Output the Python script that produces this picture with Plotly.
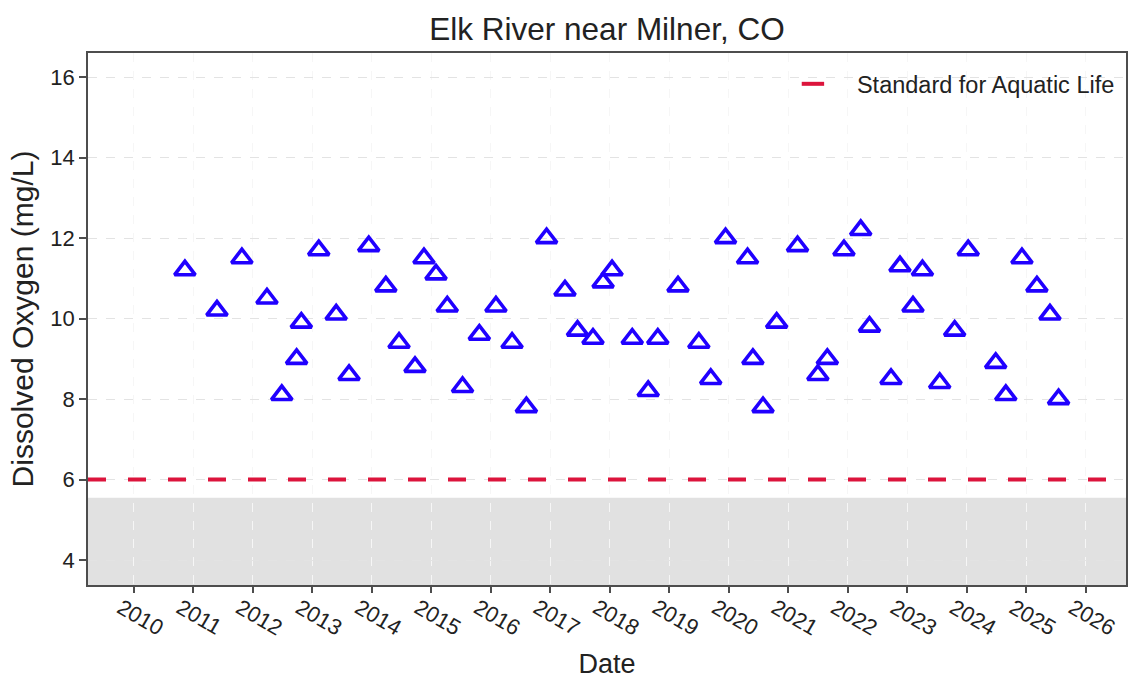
import plotly.graph_objects as go

# Sample dates and dissolved oxygen readings (mg/L)
sample_dates = [
    "2010-11-10", "2011-05-26", "2011-10-26", "2012-03-28", "2012-06-27",
    "2012-09-26", "2012-10-25", "2013-02-09", "2013-05-27", "2013-08-14",
    "2013-12-13", "2014-03-28", "2014-06-17", "2014-09-23", "2014-11-17",
    "2015-01-30", "2015-04-09", "2015-07-12", "2015-10-23", "2016-02-02",
    "2016-05-11", "2016-08-07", "2016-12-09", "2017-04-01", "2017-06-17",
    "2017-09-20", "2017-11-21", "2018-01-15", "2018-05-19", "2018-08-25",
    "2018-10-23", "2019-02-24", "2019-07-02", "2019-09-13", "2019-12-13",
    "2020-04-26", "2020-05-29", "2020-07-30", "2020-10-22", "2021-02-27",
    "2021-07-02", "2021-08-29", "2021-12-09", "2022-03-22", "2022-05-15",
    "2022-09-24", "2022-11-18", "2023-02-06", "2023-04-05", "2023-07-20",
    "2023-10-20", "2024-01-11", "2024-06-28", "2024-08-29", "2024-12-06",
    "2025-03-08", "2025-05-27", "2025-07-19",
]
do_values = [
    11.2, 10.2, 11.5, 10.5, 8.1,
    9.0, 9.9, 11.7, 10.1, 8.6,
    11.8, 10.8, 9.4, 8.8, 11.5,
    11.1, 10.3, 8.3, 9.6, 10.3,
    9.4, 7.8, 12.0, 10.7, 9.7,
    9.5, 10.9, 11.2, 9.5, 8.2,
    9.5, 10.8, 9.4, 8.5, 12.0,
    11.5, 9.0, 7.8, 9.9, 11.8,
    8.6, 9.0, 11.7, 12.2, 9.8,
    8.5, 11.3, 10.3, 11.2, 8.4,
    9.7, 11.7, 8.9, 8.1, 11.5,
    10.8, 10.1, 8.0,
]

standard_value = 6.0
standard_label = "Standard for Aquatic Life"
low_band_top = 5.55

x_range = ["2009-03-25", "2026-09-06"]
y_range = [3.38, 16.6]
y_ticks = [4, 6, 8, 10, 12, 14, 16]
year_ticks = [f"{y}-01-01" for y in range(2010, 2027)]
year_labels = [str(y) for y in range(2010, 2027)]

FONT = "Liberation Sans, Arial, sans-serif"
BLUE = "#2000FF"
RED = "#DC143C"
AXIS = "#4d4d4d"
TEXT = "#222222"

fig = go.Figure()

fig.add_trace(go.Scatter(
    x=sample_dates, y=do_values, mode="markers",
    marker=dict(symbol="triangle-up-open", size=18, color=BLUE,
                line=dict(width=3.6, color=BLUE)),
    showlegend=False, hoverinfo="x+y",
))

# Legend key for the aquatic-life standard line
fig.add_trace(go.Scatter(
    x=[None], y=[None], mode="markers", name=standard_label,
    marker=dict(symbol="line-ew-open", size=17, color=RED,
                line=dict(width=4, color=RED)),
))

# Shaded band below the standard
fig.add_shape(type="rect", xref="paper", yref="y", x0=0, x1=1,
              y0=y_range[0], y1=low_band_top,
              fillcolor="#e1e1e1", line=dict(width=0), layer="below")

# Dissolved oxygen standard
fig.add_shape(type="line", xref="paper", yref="y", x0=0, x1=1,
              y0=standard_value, y1=standard_value,
              line=dict(color=RED, width=4, dash="18px,22px"), layer="above")

fig.update_layout(
    width=1128, height=679,
    margin=dict(l=88, r=0, t=53, b=94),
    paper_bgcolor="white", plot_bgcolor="white",
    font=dict(family=FONT, color=TEXT),
    title=dict(text="Elk River near Milner, CO", x=0.5, xref="paper",
               xanchor="center", y=0.958, yanchor="middle",
               font=dict(size=31.5, color=TEXT)),
    legend=dict(x=0.656, y=0.983, xanchor="left", yanchor="top",
                bgcolor="rgba(0,0,0,0)", font=dict(size=23.5, color=TEXT),
                itemwidth=78),
)

fig.update_xaxes(
    type="date", range=x_range,
    tickmode="array", tickvals=year_ticks, ticktext=year_labels,
    tickangle=30, ticks="outside", ticklen=6, tickwidth=1.5, tickcolor=AXIS,
    tickfont=dict(size=22, color=TEXT), ticklabelshift=-13,
    ticklabelstandoff=-6,
    showline=True, linecolor=AXIS, linewidth=1.5, mirror=True,
    showgrid=True, gridcolor="#f6f6f6", gridwidth=1, griddash="dash",
    zeroline=False,
    title=dict(text="Date", font=dict(size=27, color=TEXT), standoff=16),
)
fig.update_yaxes(
    range=y_range, tickmode="array", tickvals=y_ticks,
    ticks="outside", ticklen=7, tickwidth=1.5, tickcolor=AXIS,
    tickfont=dict(size=22, color=TEXT),
    showline=True, linecolor=AXIS, linewidth=1.5, mirror=True,
    showgrid=True, gridcolor="#e3e3e3", gridwidth=1, griddash="dash",
    zeroline=False,
    title=dict(text="Dissolved Oxygen (mg/L)", font=dict(size=30, color=TEXT),
               standoff=8),
)

fig.write_html("out.html")
